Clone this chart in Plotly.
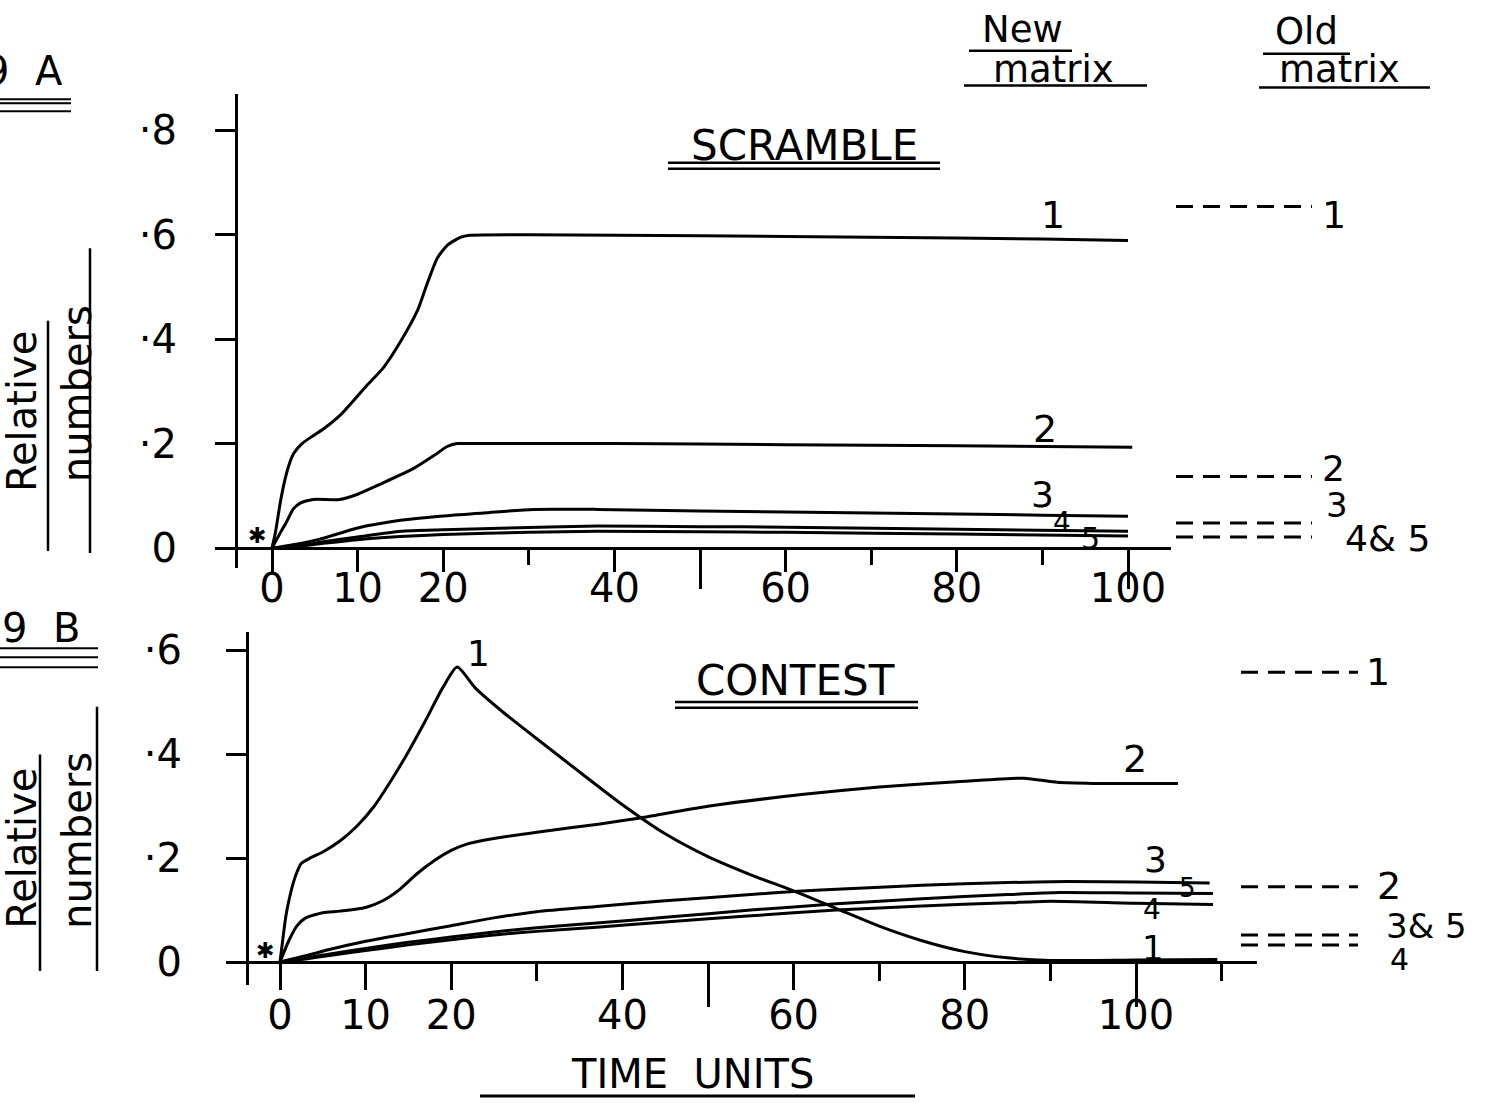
import plotly.graph_objects as go

# ---------------- data ----------------
# Fig. 9A  SCRAMBLE : relative numbers of morphs 1-5 against time (new matrix)
scr_t1 = [0, 0.4, 1.0, 1.5, 2.0, 2.5, 3.5, 4.8, 6, 8, 11, 13, 15, 17, 18.1, 19.3, 20.5, 22, 23.1, 30, 50, 70, 90, 100]
scr_v1 = [0, 0.03, 0.09, 0.13, 0.16, 0.18, 0.2, 0.215, 0.228, 0.255, 0.31, 0.345, 0.395, 0.455, 0.505, 0.555, 0.58, 0.595, 0.599, 0.6, 0.598, 0.595, 0.592, 0.589]
scr_t2 = [0, 1, 1.7, 2.5, 3.3, 4.8, 7.9, 10, 12.6, 16.5, 19, 20.4, 21.6, 23, 40, 60, 80, 100.5]
scr_v2 = [0, 0.03, 0.05, 0.075, 0.086, 0.093, 0.093, 0.103, 0.122, 0.152, 0.178, 0.194, 0.2, 0.2, 0.2, 0.198, 0.196, 0.193]
scr_t3 = [0, 3, 5.6, 9.9, 15, 19.6, 24.7, 30.5, 38, 50, 60, 70, 80, 90, 100]
scr_v3 = [0, 0.008, 0.017, 0.038, 0.053, 0.061, 0.067, 0.074, 0.074, 0.071, 0.069, 0.067, 0.065, 0.063, 0.061]
scr_t4 = [0, 3, 6, 10, 15, 20, 26.6, 38, 50, 60, 80, 100]
scr_v4 = [0, 0.004, 0.012, 0.021, 0.032, 0.035, 0.038, 0.042, 0.041, 0.04, 0.036, 0.032]
scr_t5 = [0, 3, 6, 10, 15, 20, 30, 38, 50, 60, 80, 100]
scr_v5 = [0, 0.003, 0.009, 0.016, 0.022, 0.026, 0.03, 0.032, 0.031, 0.03, 0.027, 0.023]
# old matrix equilibrium levels (SCRAMBLE)
scr_old = {"1": 0.654, "2": 0.137, "3": 0.048, "4&5": 0.021}

# Fig. 9B  CONTEST
con_t1 = [0, 0.3, 0.7, 1.2, 1.8, 2.5, 3.5, 5, 7, 9, 11, 13, 15, 17, 19, 20.7, 22.8, 26, 30, 35, 40, 45,
          50, 55, 60, 65, 70, 75, 80, 85, 90, 100, 109.5]
con_v1 = [0, 0.04, 0.09, 0.13, 0.165, 0.19, 0.2, 0.212, 0.233, 0.262, 0.3, 0.35, 0.405, 0.465, 0.528, 0.568, 0.528, 0.482, 0.43, 0.366, 0.303, 0.247,
          0.203, 0.168, 0.137, 0.103, 0.069, 0.041, 0.02, 0.008, 0.003, 0.004, 0.005]
con_t2 = [0, 1, 2, 3, 5, 7, 10, 12, 14, 16, 18, 20, 22, 25, 30, 37.4, 41.9, 50, 61.2, 70, 80, 86.9, 90.8, 95, 104.9]
con_v2 = [0, 0.04, 0.07, 0.085, 0.095, 0.098, 0.105, 0.118, 0.14, 0.17, 0.195, 0.215, 0.228, 0.238, 0.25, 0.266, 0.277, 0.3, 0.323, 0.337, 0.348, 0.354, 0.346, 0.344, 0.344]
con_t3 = [0, 3, 6, 10, 15, 20, 25, 30, 37, 45, 55, 60, 65, 75, 85, 92, 100, 108.6]
con_v3 = [0, 0.012, 0.025, 0.04, 0.055, 0.07, 0.085, 0.097, 0.107, 0.118, 0.13, 0.136, 0.14, 0.148, 0.153, 0.155, 0.154, 0.152]
con_t4 = [0, 3, 6, 10, 15, 20, 25, 30, 37, 45, 55, 65, 75, 85, 90, 100, 109]
con_v4 = [0, 0.006, 0.013, 0.022, 0.033, 0.043, 0.052, 0.059, 0.067, 0.077, 0.089, 0.1, 0.108, 0.114, 0.117, 0.113, 0.111]
con_t5 = [0, 3, 6, 10, 15, 20, 25, 30, 37, 45, 55, 65, 75, 85, 91, 100, 109]
con_v5 = [0, 0.008, 0.016, 0.026, 0.038, 0.048, 0.058, 0.066, 0.075, 0.086, 0.1, 0.112, 0.122, 0.13, 0.134, 0.133, 0.132]
# old matrix equilibrium levels (CONTEST)
con_old = {"1": 0.558, "2": 0.145, "3&5": 0.052, "4": 0.033}

x_tickvals = [0, 10, 20, 40, 60, 80, 100]
x_ticktext = ["0", "10", "20", "40", "60", "80", "100"]
top_y_tickvals = [0, 0.2, 0.4, 0.6, 0.8]
top_y_ticktext = ["0", "·2", "·4", "·6", "·8"]
bot_y_tickvals = [0, 0.2, 0.4, 0.6]
bot_y_ticktext = ["0", "·2", "·4", "·6"]

# ---------------- page geometry (pixels) ----------------
W, H = 1487, 1103
FONT = "DejaVu Sans"
INK = "black"


def fx(x):
    return x / W


def fy(y):
    return 1 - y / H


fig = go.Figure()

line_style = dict(color=INK, width=3, shape="spline", smoothing=0.6)
for t, v in [(scr_t1, scr_v1), (scr_t2, scr_v2), (scr_t3, scr_v3), (scr_t4, scr_v4), (scr_t5, scr_v5)]:
    fig.add_trace(go.Scatter(x=t, y=v, mode="lines", line=line_style, xaxis="x", yaxis="y", hoverinfo="skip"))
for t, v in [(con_t1, con_v1), (con_t2, con_v2), (con_t3, con_v3), (con_t4, con_v4), (con_t5, con_v5)]:
    fig.add_trace(go.Scatter(x=t, y=v, mode="lines", line=line_style, xaxis="x2", yaxis="y2", hoverinfo="skip"))

dash_style = dict(color=INK, width=3, dash="17px,10px")
for v in scr_old.values():
    fig.add_trace(go.Scatter(x=[0, 1], y=[v, v], mode="lines", line=dash_style, xaxis="x3", yaxis="y", hoverinfo="skip"))
for v in con_old.values():
    fig.add_trace(go.Scatter(x=[0, 1], y=[v, v], mode="lines", line=dash_style, xaxis="x4", yaxis="y2", hoverinfo="skip"))
# empty traces so the long-tick overlay axes are drawn
fig.add_trace(go.Scatter(x=[], y=[], xaxis="x5", yaxis="y", hoverinfo="skip"))
fig.add_trace(go.Scatter(x=[], y=[], xaxis="x6", yaxis="y2", hoverinfo="skip"))

# axis scales: t = (px - origin) / 8.56, value = (zero_px - py) / px_per_unit
TOP_X0, BOT_X0, PPU_X = 272, 280, 8.56
TOP_Y0, TOP_PPU = 547, 526
BOT_Y0, BOT_PPU = 964, 523

tick_font = dict(family=FONT, size=40, color=INK)
common_x = dict(showgrid=False, zeroline=False, showline=True, linecolor=INK, linewidth=3,
                ticks="outside", tickcolor=INK, tickwidth=2.5, tickfont=tick_font,
                tickvals=x_tickvals, ticktext=x_ticktext, anchor="free")
common_y = dict(showgrid=False, zeroline=False, showline=True, linecolor=INK, linewidth=3,
                ticks="outside", tickcolor=INK, tickwidth=2.5, tickfont=tick_font, anchor="free",
                ticklen=20)

top_xr = [(228 - TOP_X0) / PPU_X, (1171 - TOP_X0) / PPU_X]
bot_xr = [(228 - BOT_X0) / PPU_X, (1257 - BOT_X0) / PPU_X]

fig.update_layout(
    width=W, height=H, margin=dict(l=0, r=0, t=0, b=0),
    paper_bgcolor="white", plot_bgcolor="rgba(0,0,0,0)", showlegend=False,
    font=dict(family=FONT, color=INK),
    xaxis=dict(common_x, domain=[fx(228), fx(1171)], range=top_xr, position=fy(TOP_Y0),
               ticklen=22, ticklabelstandoff=-18,
               minor=dict(tickvals=[30, 50, 70, 90], ticklen=15, tickwidth=2.5, tickcolor=INK, ticks="outside")),
    yaxis=dict(common_y, domain=[fy(567), fy(90)],
               range=[(TOP_Y0 - 567) / TOP_PPU, (TOP_Y0 - 90) / TOP_PPU],
               position=fx(236), tickvals=top_y_tickvals, ticktext=top_y_ticktext, ticklabelstandoff=30),
    xaxis2=dict(common_x, domain=[fx(228), fx(1257)], range=bot_xr, position=fy(BOT_Y0),
                ticklen=26, ticklabelstandoff=-9,
                minor=dict(tickvals=[30, 50, 70, 90, 110], ticklen=17, tickwidth=2.5, tickcolor=INK, ticks="outside")),
    yaxis2=dict(common_y, domain=[fy(987), fy(632)],
                range=[(BOT_Y0 - 987) / BOT_PPU, (BOT_Y0 - 632) / BOT_PPU],
                position=fx(247), tickvals=bot_y_tickvals, ticktext=bot_y_ticktext, ticklabelstandoff=36),
    # old-matrix columns
    xaxis3=dict(domain=[fx(1176), fx(1312)], range=[0, 1], anchor="y", visible=False),
    xaxis4=dict(domain=[fx(1241), fx(1358)], range=[0, 1], anchor="y2", visible=False),
    # long ticks at 50 / 100
    xaxis5=dict(overlaying="x", matches="x", anchor="free", position=fy(TOP_Y0), showgrid=False, zeroline=False,
                showline=False, showticklabels=False, ticks="outside", tickvals=[50, 100], ticklen=40,
                tickwidth=2.5, tickcolor=INK),
    xaxis6=dict(overlaying="x2", matches="x2", anchor="free", position=fy(BOT_Y0), showgrid=False, zeroline=False,
                showline=False, showticklabels=False, ticks="outside", tickvals=[50, 100], ticklen=44,
                tickwidth=2.5, tickcolor=INK),
)

# ---------------- lettering ----------------
def label(text, x, y, size=40, angle=0):
    fig.add_annotation(text=text, x=fx(x), y=fy(y), xref="paper", yref="paper", showarrow=False,
                       xanchor="center", yanchor="middle", textangle=angle, borderpad=0,
                       font=dict(family=FONT, size=size, color=INK))


def rule(x0, y0, x1, y1, w=2.5):
    fig.add_shape(type="line", xref="paper", yref="paper", x0=fx(x0), y0=fy(y0), x1=fx(x1), y1=fy(y1),
                  line=dict(color=INK, width=w))


# figure numbers (the "9" of panel A runs off the left edge of the sheet)
label("9", -4, 66)
label("A", 49, 66)
for yy in (95, 99, 107):
    rule(0, yy, 71, yy, 2)
label("9", 14, 628)
label("B", 66, 628)
for yy in (648, 657, 667):
    rule(0, yy, 98, yy, 2)

# column headings
label("New", 1022, 25, 37)
rule(969, 46, 1072, 46)
label("matrix", 1053, 65, 37)
rule(964, 81, 1147, 81)
label("Old", 1306, 27, 37)
rule(1263, 49, 1350, 49)
label("matrix", 1339, 65, 37)
rule(1259, 83, 1430, 83)

# panel titles
label("SCRAMBLE", 804, 142, 42)
rule(668, 159, 940, 159)
rule(668, 165, 940, 165)
label("CONTEST", 795, 680, 42)
rule(675, 702, 918, 702)
rule(675, 708, 918, 708)
label("TIME  UNITS", 692, 1077, 40)
rule(480, 1099, 915, 1099, 3)

# y titles
label("Relative", 22, 410, 40, -90)
rule(48, 318, 48, 550)
label("numbers", 77, 392, 40, -90)
rule(90, 245, 90, 552)
label("Relative", 22, 850, 40, -90)
rule(40, 755, 40, 973)
label("numbers", 77, 842, 40, -90)
rule(97, 707, 97, 973)

# start markers
label("✱", 257, 534, 22)
label("✱", 265, 952, 22)

# curve numbers, SCRAMBLE
label("1", 1053, 212, 38)
label("2", 1045, 427, 38)
label("3", 1042, 493, 36)
label("4", 1062, 521, 28)
label("5", 1090, 537, 30)
label("1", 1334, 212, 38)
label("2", 1333, 467, 36)
label("3", 1337, 504, 34)
label("4& 5", 1387, 537, 36)

# curve numbers, CONTEST
label("1", 478, 653, 36)
label("2", 1135, 760, 38)
label("3", 1155, 861, 36)
label("5", 1187, 889, 26)
label("4", 1152, 911, 28)
label("1", 1153, 950, 34)
label("1", 1378, 672, 38)
label("2", 1389, 887, 38)
label("3& 5", 1426, 928, 34)
label("4", 1399, 961, 30)

fig.write_html("out.html")
